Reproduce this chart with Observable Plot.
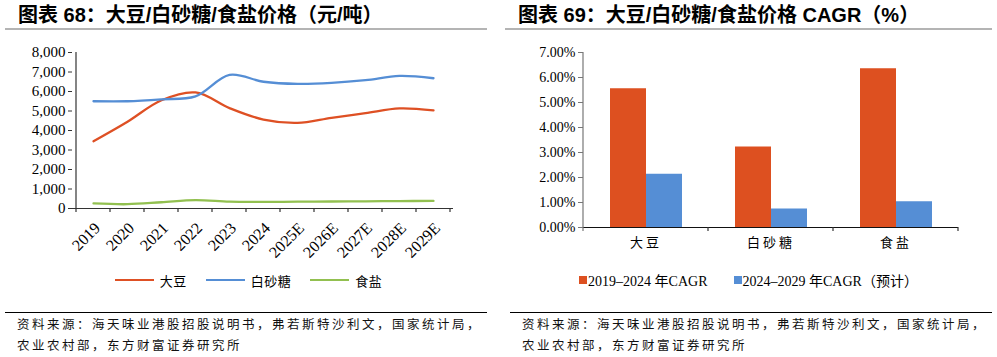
<!DOCTYPE html>
<html>
<head>
<meta charset="utf-8">
<script src="https://cdn.jsdelivr.net/npm/d3@7"></script>
<script src="https://cdn.jsdelivr.net/npm/@observablehq/plot@0.6"></script>
<style>
  html, body { margin: 0; padding: 0; background: #fff; }
  #page { position: relative; width: 997px; height: 357px; overflow: hidden; background: #fff; }
  .title { position: absolute; top: 4px; font: bold 20px "Liberation Sans", "Noto Sans CJK SC", sans-serif; color: #000; white-space: nowrap; line-height: 22px; }
  .hrule { position: absolute; height: 2px; background: #b4b4b4; top: 28px; }
  .frule { position: absolute; height: 1px; background: #000; top: 312px; }
  .source { position: absolute; top: 313px; font: 12.5px "Noto Sans CJK SC", sans-serif; letter-spacing: 2.5px; line-height: 21px; color: #111; white-space: nowrap; }
  .chart { position: absolute; top: 40px; width: 497px; height: 220px; }
  .legend { position: absolute; top: 270px; height: 20px; display: flex; justify-content: center; align-items: center; white-space: nowrap; color: #000; }
  .legend .item { display: flex; align-items: center; }
  .lg-line { width: 39px; height: 2.5px; margin-right: 6px; }
  .lg-text-cn { font: 13px "Noto Sans CJK SC", sans-serif; letter-spacing: 0.5px; }
  .lg-sq { width: 8px; height: 8px; margin-right: 1px; }
  .lg-text { font: 14px "Liberation Serif", "Noto Sans CJK SC", serif; }
  #right svg g[aria-label="fx-axis tick label"] text { letter-spacing: 3px; }
</style>
</head>
<body>
<div id="page">
  <div class="title" style="left:18px;">图表 68：大豆/白砂糖/食盐价格（元/吨）</div>
  <div class="hrule" style="left:5px; width:482px;"></div>
  <div class="title" style="left:518px;">图表 69：大豆/白砂糖/食盐价格 CAGR（%）</div>
  <div class="hrule" style="left:505px; width:487px;"></div>

  <div class="chart" id="left" style="left:0px;"></div>
  <div class="chart" id="right" style="left:500px;"></div>

  <div class="legend" id="legendLeft" style="left:0px; width:497px;"></div>
  <div class="legend" id="legendRight" style="left:500px; width:497px;"></div>

  <div class="frule" style="left:5px; width:482px;"></div>
  <div class="source" style="left:17px;">资料来源：海天味业港股招股说明书，弗若斯特沙利文，国家统计局，<br>农业农村部，东方财富证券研究所</div>
  <div class="frule" style="left:510px; width:482px;"></div>
  <div class="source" style="left:522px;">资料来源：海天味业港股招股说明书，弗若斯特沙利文，国家统计局，<br>农业农村部，东方财富证券研究所</div>
</div>
<script>
// ---------- Data ----------
const years = ["2019", "2020", "2021", "2022", "2023", "2024", "2025E", "2026E", "2027E", "2028E", "2029E"];
const soybean = [3450, 4450, 5550, 5950, 5150, 4560, 4390, 4650, 4890, 5130, 5030];
const sugar = [5500, 5500, 5600, 5750, 6850, 6500, 6390, 6440, 6580, 6800, 6680];
const salt = [260, 220, 320, 430, 350, 340, 350, 360, 370, 380, 390];
const lineSeries = ["大豆", "白砂糖", "食盐"];
const leftTicks = [0, 1000, 2000, 3000, 4000, 5000, 6000, 7000, 8000];

const cagrCats = ["大豆", "白砂糖", "食盐"];
const cagrSeries = ["2019–2024 年CAGR", "2024–2029 年CAGR（预计）"];
const cagr1924 = [5.55, 3.22, 6.35];
const cagr2429 = [2.13, 0.74, 1.03];
const rightTicks = [0, 1, 2, 3, 4, 5, 6, 7];

const lineColors = ["#DE5024", "#558ED5", "#92C050"];
const barColors = ["#DD5020", "#558ED5"];

// ---------- Left chart ----------
const lineRows = [];
years.forEach((yr, i) => {
  lineRows.push({year: yr, series: lineSeries[0], value: soybean[i]});
  lineRows.push({year: yr, series: lineSeries[1], value: sugar[i]});
  lineRows.push({year: yr, series: lineSeries[2], value: salt[i]});
});

const left = Plot.plot({
  width: 497, height: 220,
  marginLeft: 72, marginRight: 44, marginTop: 12, marginBottom: 52,
  style: {fontFamily: "Liberation Serif, serif", fontSize: "15px", color: "#000", background: "transparent", overflow: "visible"},
  x: {type: "point", domain: years, padding: 0.5, label: null},
  y: {domain: [0, 8000], label: null},
  color: {domain: lineSeries, range: lineColors},
  marks: [
    Plot.axisY({ticks: leftTicks, tickFormat: d3.format(","), tickSize: 4, tickPadding: 3, label: null, stroke: "#333"}),
    Plot.axisX({tickSize: 0, tickPadding: 13, tickRotate: -45, label: null, dx: 4, dy: 4, fontSize: 16}),
    Plot.ruleY([0], {stroke: "#333", strokeWidth: 1.2}),
    Plot.line(lineRows, {x: "year", y: "value", z: "series", stroke: "series", curve: "catmull-rom", strokeWidth: 2.3})
  ]
});
document.getElementById("left").appendChild(left);

(function () {
  const sx = left.scale("x"), sy = left.scale("y");
  const step = sx.apply(years[1]) - sx.apply(years[0]);
  const g = d3.select(left).append("g").attr("stroke", "#333").attr("stroke-width", 1.2);
  const yBottom = sy.apply(0);
  g.append("line").attr("x1", sx.apply(years[0]) - step / 2).attr("x2", sx.apply(years[0]) - step / 2)
    .attr("y1", sy.apply(8000)).attr("y2", yBottom + 4);
  years.forEach((yr) => {
    const xb = sx.apply(yr) + step / 2;
    g.append("line").attr("x1", xb).attr("x2", xb).attr("y1", yBottom).attr("y2", yBottom + 4);
  });
})();

// ---------- Right chart ----------
const barRows = [];
cagrCats.forEach((c, i) => {
  barRows.push({cat: c, series: cagrSeries[0], value: cagr1924[i]});
  barRows.push({cat: c, series: cagrSeries[1], value: cagr2429[i]});
});

const right = Plot.plot({
  width: 497, height: 220,
  marginLeft: 82, marginRight: 38, marginTop: 12, marginBottom: 33,
  style: {fontFamily: "Liberation Serif, serif", fontSize: "14px", color: "#000", background: "transparent", overflow: "visible"},
  fx: {domain: cagrCats, padding: 0, label: null},
  x: {domain: cagrSeries, paddingInner: 0, paddingOuter: 0.712, axis: null},
  y: {domain: [0, 7], label: null},
  color: {domain: cagrSeries, range: barColors},
  marks: [
    Plot.barY(barRows, {fx: "cat", x: "series", y: "value", fill: "series"}),
    Plot.axisY({ticks: rightTicks, tickFormat: d => d.toFixed(2) + "%", tickSize: 5, tickPadding: 3, label: null, stroke: "#777"}),
    Plot.axisFx({anchor: "bottom", tickSize: 0, tickPadding: 10, label: null, fontFamily: "Noto Sans CJK SC, sans-serif", fontSize: 13}),
    Plot.ruleY([0], {stroke: "#111", strokeWidth: 1.2})
  ]
});
document.getElementById("right").appendChild(right);

(function () {
  const sfx = right.scale("fx"), sy = right.scale("y");
  const step = sfx.step;
  const yBottom = sy.apply(0);
  const g = d3.select(right).append("g").attr("stroke-width", 1.2);
  const x0 = sfx.apply(cagrCats[0]);
  g.append("line").attr("stroke", "#777").attr("x1", x0).attr("x2", x0).attr("y1", sy.apply(7)).attr("y2", yBottom + 4);
  cagrCats.forEach((c) => {
    const xb = sfx.apply(c) + step;
    g.append("line").attr("stroke", "#333").attr("x1", xb).attr("x2", xb).attr("y1", yBottom).attr("y2", yBottom + 4);
  });
})();

// ---------- Legends ----------
const legL = document.getElementById("legendLeft");
lineSeries.forEach((s, i) => {
  const item = document.createElement("div");
  item.className = "item";
  item.style.marginRight = i < lineSeries.length - 1 ? "19px" : "0";
  item.innerHTML = `<div class="lg-line" style="background:${lineColors[i]}"></div><span class="lg-text-cn">${s}</span>`;
  legL.appendChild(item);
});
const legR = document.getElementById("legendRight");
cagrSeries.forEach((s, i) => {
  const item = document.createElement("div");
  item.className = "item";
  item.style.marginRight = i < cagrSeries.length - 1 ? "26px" : "0";
  item.innerHTML = `<div class="lg-sq" style="background:${barColors[i]}"></div><span class="lg-text">${s}</span>`;
  legR.appendChild(item);
});
</script>
</body>
</html>
